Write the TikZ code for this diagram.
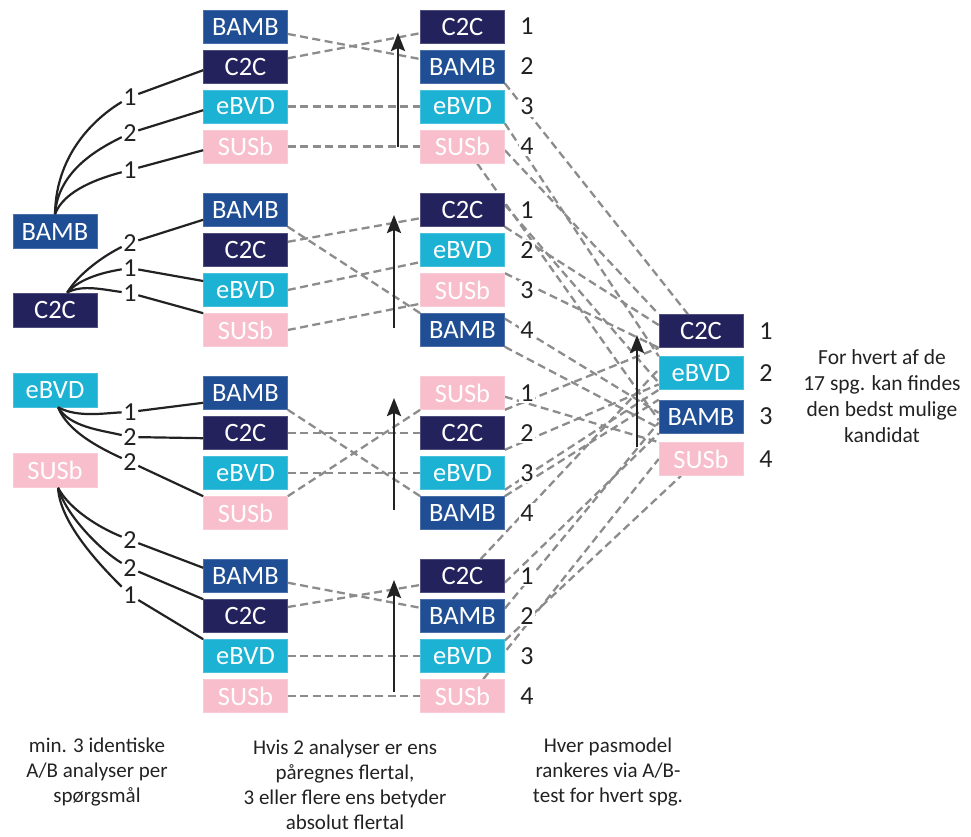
\documentclass[tikz,border=0pt]{standalone}
\usepackage{fontspec}
\setmainfont{Carlito}
\usetikzlibrary{arrows.meta}
\definecolor{cBAMB}{HTML}{1F4E94}
\definecolor{cCTC}{HTML}{24225C}
\definecolor{cEBVD}{HTML}{1BB2D3}
\definecolor{cSUSB}{HTML}{F8BECC}
\definecolor{dashgray}{HTML}{8C8C8C}
\definecolor{ink}{HTML}{222222}
\begin{document}
\begin{tikzpicture}[x=1pt,y=-1pt,
  box/.style={minimum width=84pt,minimum height=33pt,inner sep=0pt,text=white,font=\fontsize{26.5}{30}\selectfont},
  bamb/.style={box,fill=cBAMB,draw=cBAMB!80!white,line width=0.6pt},
  ctc/.style={box,fill=cCTC,draw=cCTC!80!white,line width=0.6pt},
  ebvd/.style={box,fill=cEBVD,draw=cEBVD!80!white,line width=0.6pt},
  susb/.style={box,fill=cSUSB,draw=cSUSB!80!white,line width=0.6pt},
  num/.style={fill=white,inner sep=1.5pt,text=ink,font=\fontsize{26}{30}\selectfont},
  dl/.style={draw=dashgray,line width=2.3pt,dash pattern=on 8pt off 4.5pt},
  cv/.style={draw=ink,line width=2.2pt},
  uparrow/.style={draw=ink,line width=2.6pt,-{Stealth[length=18pt,width=14pt,inset=3pt]}},
  note/.style={align=center,text=ink,font=\fontsize{21}{25}\selectfont},
]
\useasboundingbox (0,0) rectangle (971,836);

% left boxes
\node[bamb,minimum height=34pt] (lB) at (55,231.5) {BAMB};
\node[ctc,minimum height=34pt] (lC) at (55,310) {C2C};
\node[ebvd,minimum height=34pt] (lE) at (55,390) {eBVD};
\node[susb,minimum height=34pt] (lS) at (55,470.5) {SUSb};

% column 1
\node[bamb] (a1B) at (245.5,26.5) {BAMB};
\node[ctc]  (a1C) at (245.5,66.5) {C2C};
\node[ebvd] (a1E) at (245.5,106.5) {eBVD};
\node[susb] (a1S) at (245.5,146.5) {SUSb};
\node[bamb] (a2B) at (245.5,210) {BAMB};
\node[ctc]  (a2C) at (245.5,250) {C2C};
\node[ebvd] (a2E) at (245.5,290) {eBVD};
\node[susb] (a2S) at (245.5,330) {SUSb};
\node[bamb] (a3B) at (245.5,393) {BAMB};
\node[ctc]  (a3C) at (245.5,433) {C2C};
\node[ebvd] (a3E) at (245.5,473) {eBVD};
\node[susb] (a3S) at (245.5,513) {SUSb};
\node[bamb] (a4B) at (245.5,576) {BAMB};
\node[ctc]  (a4C) at (245.5,616) {C2C};
\node[ebvd] (a4E) at (245.5,656) {eBVD};
\node[susb] (a4S) at (245.5,696) {SUSb};

% column 2
\node[ctc]  (b1C) at (462.5,26.5) {C2C};
\node[bamb] (b1B) at (462.5,66.5) {BAMB};
\node[ebvd] (b1E) at (462.5,106.5) {eBVD};
\node[susb] (b1S) at (462.5,146.5) {SUSb};
\node[ctc]  (b2C) at (462.5,210) {C2C};
\node[ebvd] (b2E) at (462.5,250) {eBVD};
\node[susb] (b2S) at (462.5,290) {SUSb};
\node[bamb] (b2B) at (462.5,330) {BAMB};
\node[susb] (b3S) at (462.5,393) {SUSb};
\node[ctc]  (b3C) at (462.5,433) {C2C};
\node[ebvd] (b3E) at (462.5,473) {eBVD};
\node[bamb] (b3B) at (462.5,513) {BAMB};
\node[ctc]  (b4C) at (462.5,576) {C2C};
\node[bamb] (b4B) at (462.5,616) {BAMB};
\node[ebvd] (b4E) at (462.5,656) {eBVD};
\node[susb] (b4S) at (462.5,696) {SUSb};

% right column
\node[ctc]  (rC) at (701,331) {C2C};
\node[ebvd] (rE) at (701,373) {eBVD};
\node[bamb] (rB) at (701,416.5) {BAMB};
\node[susb] (rS) at (701,459) {SUSb};

% dashed lines column 1 -> column 2
\draw[dl] (a1B.-10) -- (b1B.170);
\draw[dl] (a1C.11) -- (b1C.189);
\draw[dl] (a1E.east) -- (b1E.west);
\draw[dl] (a1S.east) -- (b1S.west);
\draw[dl] (a2B.south east) -- (b2B.north west);
\draw[dl] (a2C.11) -- (b2C.191);
\draw[dl] (a2E.east) -- (b2E.196);
\draw[dl] (a2S.east) -- (b2S.198);
\draw[dl] (a3B.south east) -- (b3B.north west);
\draw[dl] (a3C.east) -- (b3C.west);
\draw[dl] (a3E.east) -- (b3E.west);
\draw[dl] (a3S.north east) -- (b3S.south west);
\draw[dl] (a4B.-9) -- (b4B.169);
\draw[dl] (a4C.12) -- (b4C.192);
\draw[dl] (a4E.east) -- (b4E.west);
\draw[dl] (a4S.east) -- (b4S.west);

% dashed lines column 2 -> right column
\draw[dl] (b1B.south east) -- (rC.128);
\draw[dl] (b1E.south east) -- (rE.north west);
\draw[dl] (b1S.-5) -- (rC.north west);
\draw[dl] (b1S.-49) -- (rB.185);
\draw[dl] (b2C.7) -- (rE.193);
\draw[dl] (b2C.south east) -- (rC.172);
\draw[dl] (b2S.north east) -- (rC.south west);
\draw[dl] (b2B.15) -- (rB.175);
\draw[dl] (b2B.south east) -- (rB.195);
\draw[dl] (b3S.-5) -- (rS.north west);
\draw[dl] (b3S.south east) -- (rC.south west);
\draw[dl] (b3C.south east) -- (rE.195);
\draw[dl] (b3E.south east) -- (rE.south west);
\draw[dl] (b3B.north east) -- (rB.north west);
\draw[dl] (b4C.43) -- (rE.175);
\draw[dl] (b4C.-9) -- (rB.south west);
\draw[dl] (b4B.10) -- (rB.188);
\draw[dl] (b4E.20) -- (rS.-140);
\draw[dl] (b4S.39) -- (rS.180);

% redraw boxes on top of dashed lines
\foreach \n in {a1B,a2B,a3B,a4B,b1B,b2B,b3B,b4B,rB}{\node[bamb] at (\n) {BAMB};}
\foreach \n in {a1C,a2C,a3C,a4C,b1C,b2C,b3C,b4C,rC}{\node[ctc] at (\n) {C2C};}
\foreach \n in {a1E,a2E,a3E,a4E,b1E,b2E,b3E,b4E,rE}{\node[ebvd] at (\n) {eBVD};}
\foreach \n in {a1S,a2S,a3S,a4S,b1S,b2S,b3S,b4S,rS}{\node[susb] at (\n) {SUSb};}

% rank numbers
\foreach \y/\t [count=\i] in {26.5/1,66.5/2,106.5/3,146.5/4,210/1,250/2,290/3,330/4,393/1,433/2,473/3,513/4,576/1,616/2,656/3,696/4}{
  \node[num] (rk\i) at (527,\y) {\t};
}
\node[num] (rr1) at (766,331) {1};
\node[num] (rr2) at (766,373) {2};
\node[num] (rr3) at (766,416.5) {3};
\node[num] (rr4) at (766,459) {4};

% curve labels
\node[num] (k11) at (130,97) {1};
\node[num] (k12) at (130,133) {2};
\node[num] (k13) at (130,170) {1};
\node[num] (k21) at (130,243) {2};
\node[num] (k22) at (130,268) {1};
\node[num] (k23) at (130,293) {1};
\node[num] (k31) at (130,412) {1};
\node[num] (k32) at (130,437) {2};
\node[num] (k33) at (130,462) {2};
\node[num] (k41) at (130,540) {2};
\node[num] (k42) at (130,568) {2};
\node[num] (k43) at (130,595) {1};

% curves
\draw[cv] (lB.north) .. controls (56,150) and (100,115) .. (k11);
\draw[cv] (k11) -- (a1C.185);
\draw[cv] (lB.north) .. controls (58,170) and (100,148) .. (k12);
\draw[cv] (k12) -- (a1E.185);
\draw[cv] (lB.north) .. controls (64,190) and (100,178) .. (k13);
\draw[cv] (k13) -- (a1S.185);

\draw[cv] (lC.55) .. controls (79,273) and (105,255) .. (k21);
\draw[cv] (k21) -- (a2B.193);
\draw[cv] (lC.55) .. controls (80,278) and (105,272) .. (k22);
\draw[cv] (k22) -- (a2E.168);
\draw[cv] (lC.55) .. controls (82,284) and (105,290) .. (k23);
\draw[cv] (k23) -- (a2S.north west);

\draw[cv] (lE.-80) .. controls (78,418) and (105,413) .. (k31);
\draw[cv] (k31) -- (a3B.193);
\draw[cv] (lE.-80) .. controls (70,427) and (100,430) .. (k32);
\draw[cv] (k32) -- (a3C.187);
\draw[cv] (lE.-80) .. controls (68,432) and (100,448) .. (k33);
\draw[cv] (k33) -- (a3S.north west);

\draw[cv] (lS.-80) .. controls (70,510) and (100,528) .. (k41);
\draw[cv] (k41) -- (a4B.169);
\draw[cv] (lS.-80) .. controls (66,515) and (100,550) .. (k42);
\draw[cv] (k42) -- (a4C.north west);
\draw[cv] (lS.-80) .. controls (60,525) and (105,570) .. (k43);
\draw[cv] (k43) -- (a4E.north west);

% arrows
\coordinate (u1s) at (398,147); \coordinate (u1e) at (398,33);
\coordinate (u2s) at (394,328); \coordinate (u2e) at (394,215);
\coordinate (u3s) at (394,510); \coordinate (u3e) at (394,398);
\coordinate (u4s) at (394,692); \coordinate (u4e) at (394,580);
\coordinate (u5s) at (637,447); \coordinate (u5e) at (637,335);
\draw[uparrow] (u1s) -- (u1e);
\draw[uparrow] (u2s) -- (u2e);
\draw[uparrow] (u3s) -- (u3e);
\draw[uparrow] (u4s) -- (u4e);
\draw[uparrow] (u5s) -- (u5e);

% texts
\node[note] (t1) at (97,772) {min. 3 identiske\\A/B analyser per\\spørgsmål};
\node[note] (t2) at (345,784.5) {Hvis 2 analyser er ens\\påregnes flertal,\\3 eller flere ens betyder\\absolut flertal};
\node[note] (t3) at (608,772) {Hver pasmodel\\rankeres via A/B-\\test for hvert spg.};
\node[note,font=\fontsize{21.5}{26}\selectfont] (t4) at (882,396) {For hvert af de\\17 spg. kan findes\\den bedst mulige\\kandidat};
\end{tikzpicture}
\end{document}
